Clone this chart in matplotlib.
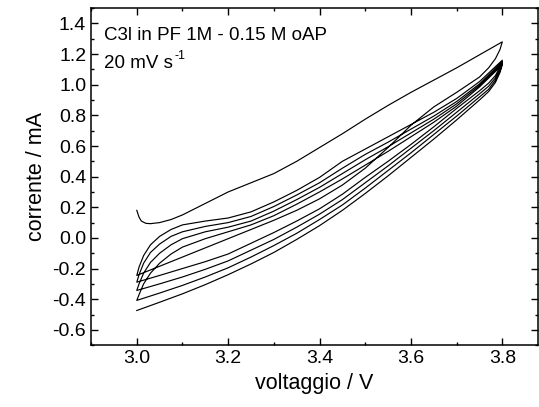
import numpy as np
import matplotlib.pyplot as plt
from matplotlib.ticker import MultipleLocator

plt.rcParams['font.family'] = ['Liberation Sans', 'DejaVu Sans']
plt.rcParams['axes.unicode_minus'] = False

# potenziali (V)
v_f1 = [3.0, 3.005, 3.01, 3.02, 3.03, 3.05, 3.075, 3.1, 3.15, 3.2, 3.25, 3.3, 3.35,
        3.4, 3.45, 3.5, 3.55, 3.6, 3.65, 3.7, 3.75, 3.8]
v_av = [3.0, 3.005, 3.015, 3.03, 3.05, 3.075, 3.1, 3.15, 3.2, 3.25, 3.3, 3.35, 3.4,
        3.45, 3.5, 3.55, 3.6, 3.65, 3.7, 3.75, 3.8]
v_in = [3.8, 3.795, 3.785, 3.77, 3.75, 3.7, 3.65, 3.6, 3.55, 3.5, 3.45, 3.4, 3.35,
        3.3, 3.25, 3.2, 3.15, 3.1, 3.05, 3.0]

# correnti (mA), scansione in avanti
i_f1 = [0.18, 0.135, 0.11, 0.095, 0.093, 0.10, 0.12, 0.15, 0.225, 0.30, 0.36, 0.42, 0.50,
        0.59, 0.68, 0.775, 0.865, 0.95, 1.03, 1.11, 1.195, 1.28]
i_f2 = [-0.245, -0.19, -0.115, -0.045, 0.01, 0.055, 0.085, 0.11, 0.13, 0.17, 0.235, 0.31,
        0.395, 0.50, 0.58, 0.66, 0.74, 0.82, 0.91, 1.02, 1.16]
i_f3 = [-0.289, -0.24, -0.165, -0.095, -0.04, 0.01, 0.04, 0.075, 0.10, 0.14, 0.205, 0.28,
        0.36, 0.455, 0.545, 0.625, 0.71, 0.795, 0.89, 1.005, 1.15]
i_f4 = [-0.343, -0.30, -0.23, -0.16, -0.10, -0.045, -0.005, 0.04, 0.07, 0.11, 0.175, 0.25,
        0.33, 0.42, 0.51, 0.595, 0.685, 0.775, 0.875, 0.995, 1.14]
i_f5 = [-0.408, -0.37, -0.30, -0.23, -0.165, -0.105, -0.06, -0.005, 0.04, 0.085, 0.145, 0.22,
        0.30, 0.385, 0.475, 0.565, 0.66, 0.755, 0.86, 0.985, 1.13]

# correnti (mA), scansione all'indietro
i_r1 = [1.28, 1.23, 1.17, 1.11, 1.05, 0.95, 0.855, 0.735, 0.59, 0.455, 0.345, 0.255, 0.18,
        0.115, 0.055, -0.005, -0.065, -0.125, -0.185, -0.245]
i_r2 = [1.16, 1.115, 1.06, 1.01, 0.96, 0.845, 0.725, 0.61, 0.50, 0.395, 0.285, 0.19, 0.11,
        0.035, -0.035, -0.105, -0.155, -0.20, -0.245, -0.289]
i_r3 = [1.15, 1.10, 1.045, 0.99, 0.94, 0.82, 0.70, 0.585, 0.47, 0.36, 0.25, 0.155, 0.07,
        -0.01, -0.08, -0.15, -0.205, -0.255, -0.30, -0.343]
i_r4 = [1.14, 1.09, 1.03, 0.97, 0.92, 0.795, 0.675, 0.555, 0.44, 0.325, 0.215, 0.12, 0.03,
        -0.05, -0.125, -0.195, -0.255, -0.31, -0.36, -0.408]
i_r5 = [1.13, 1.08, 1.015, 0.955, 0.90, 0.77, 0.645, 0.525, 0.405, 0.29, 0.18, 0.08, -0.01,
        -0.095, -0.17, -0.24, -0.305, -0.365, -0.42, -0.474]

#si mettono i cicli uno dopo l'altro
voltaggio = v_f1 + v_in
corrente = i_f1 + i_r1
for i_av, i_ind in [(i_f2, i_r2), (i_f3, i_r3), (i_f4, i_r4), (i_f5, i_r5)]:
    voltaggio = voltaggio + v_av + v_in
    corrente = corrente + i_av + i_ind

fig = plt.figure(figsize=(5.39, 4.07), dpi=100)
ax = fig.add_axes([0.169, 0.152, 0.829, 0.828])
ax.plot(voltaggio, corrente, color='black', lw=0.85)

ax.set_xlim(2.9, 3.878)
ax.set_ylim(-0.7, 1.5)
ax.xaxis.set_minor_locator(MultipleLocator(0.1))
ax.yaxis.set_minor_locator(MultipleLocator(0.1))
ax.set_xticks([3.0, 3.2, 3.4, 3.6, 3.8])
ax.set_xticklabels(['3.0', '3.2', '3.4', '3.6', '3.8'])
ax.set_yticks(np.arange(-0.6, 1.41, 0.2))
ax.set_yticklabels(['%.1f' % v for v in np.arange(-0.6, 1.41, 0.2)])
ax.tick_params(which='both', direction='in', top=True, right=True, labelsize=14, width=1.0)
ax.tick_params(which='major', length=5)
ax.tick_params(which='minor', length=2.5)
for s in ax.spines.values():
    s.set_linewidth(1.1)

ax.set_xlabel('voltaggio / V', fontsize=15.5, labelpad=4)
ax.set_ylabel('corrente / mA', fontsize=15.5, labelpad=4)

ax.text(0.03, 0.945, 'C3l in PF 1M - 0.15 M oAP', transform=ax.transAxes, fontsize=13.5, va='top')
t = ax.text(0.03, 0.86, '20 mV s', transform=ax.transAxes, fontsize=13.5, va='top')
ax.annotate('-1', xy=(1.0, 0.62), xycoords=t, xytext=(0.5, 0), textcoords='offset points',
            fontsize=9, va='bottom', ha='left')

fig.savefig('out.png', dpi=100)
